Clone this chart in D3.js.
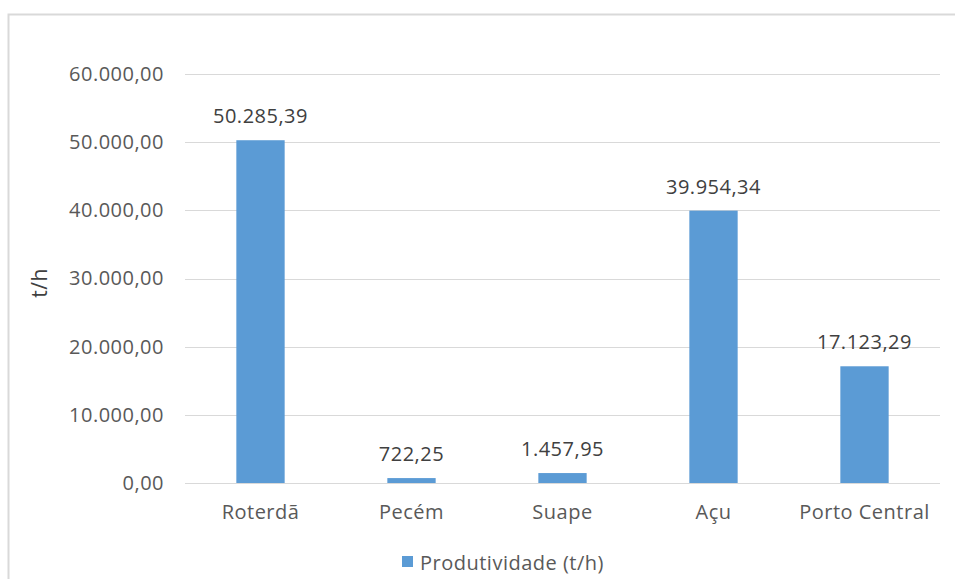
<!DOCTYPE html>
<html>
<head>
<meta charset="utf-8">
<script src="https://cdn.jsdelivr.net/npm/d3@7"></script>
<style>
  body { margin: 0; background: #fff; }
  text { font-family: "Open Sans", "Noto Sans", sans-serif; fill: #595959; letter-spacing: 0.5px; }
</style>
</head>
<body>
<div id="chart"></div>
<script>
var ports = ["Roterdã", "Pecém", "Suape", "Açu", "Porto Central"];
var produtividade = [50285.39, 722.25, 1457.95, 39954.34, 17123.29];
var yTicks = [0, 10000, 20000, 30000, 40000, 50000, 60000];
var seriesName = "Produtividade (t/h)";

function main(){
    var canvasWidth = 955;
    var canvasHeight = 579;
    var left = 185, right = 940, top = 74, bottom = 483;

    var svg = d3.select("#chart").append("svg")
        .attr("width", canvasWidth)
        .attr("height", canvasHeight);

    // chart frame (only top and left edges are in view)
    svg.append("path")
        .attr("d", "M8.5,579 V14.5 H955")
        .attr("fill", "none")
        .attr("stroke", "#d9d9d9")
        .attr("stroke-width", 2);

    var fmt = d3.formatLocale({decimal: ",", thousands: ".", grouping: [3], currency: ["", ""]}).format(",.2f");

    var xScale = d3.scaleBand().domain(ports).range([left, right]).paddingInner(0.68).paddingOuter(0.34);
    var yScale = d3.scaleLinear().domain([0, 60000]).range([bottom, top]);

    // gridlines
    svg.append("g")
        .selectAll("line")
        .data(yTicks)
        .enter().append("line")
        .attr("x1", left)
        .attr("x2", right)
        .attr("y1", function(d) { return Math.round(yScale(d)) + 0.5; })
        .attr("y2", function(d) { return Math.round(yScale(d)) + 0.5; })
        .attr("stroke", "#d9d9d9")
        .attr("stroke-width", 1);

    // y axis labels
    var yAxis = svg.append("g")
        .attr("transform", "translate(" + (left - 21) + ",0)")
        .call(d3.axisLeft(yScale).tickValues(yTicks).tickFormat(fmt).tickSize(0).tickPadding(0));
    yAxis.select(".domain").remove();
    yAxis.selectAll("text")
        .attr("font-size", "20px")
        .attr("fill", "#595959")
        .style("font-family", "\"Open Sans\", sans-serif");

    // bars
    svg.selectAll(".bar")
        .data(produtividade)
        .enter().append("rect")
        .attr("class", "bar")
        .attr("x", function(d, i) { return xScale(ports[i]); })
        .attr("y", function(d) { return yScale(d); })
        .attr("width", xScale.bandwidth())
        .attr("height", function(d) { return yScale(0) - yScale(d); })
        .attr("fill", "#5b9bd5");

    // value labels
    svg.selectAll(".val")
        .data(produtividade)
        .enter().append("text")
        .attr("class", "val")
        .attr("x", function(d, i) { return xScale(ports[i]) + xScale.bandwidth() / 2; })
        .attr("y", function(d) { return yScale(d) - 17; })
        .attr("text-anchor", "middle")
        .attr("font-size", "20px")
        .style("fill", "#404040")
        .text(function(d) { return fmt(d); });

    // x axis labels
    var xAxis = svg.append("g")
        .attr("transform", "translate(0," + bottom + ")")
        .call(d3.axisBottom(xScale).tickSize(0).tickPadding(22));
    xAxis.select(".domain").remove();
    xAxis.selectAll("text")
        .attr("font-size", "20px")
        .attr("fill", "#595959")
        .style("font-family", "\"Open Sans\", sans-serif");

    // y axis title
    svg.append("text")
        .attr("transform", "translate(47,283) rotate(-90)")
        .attr("text-anchor", "middle")
        .attr("font-size", "21px")
        .style("fill", "#404040")
        .text("t/h");

    // legend
    svg.append("rect")
        .attr("x", 402)
        .attr("y", 556)
        .attr("width", 11)
        .attr("height", 11)
        .attr("fill", "#5b9bd5");
    svg.append("text")
        .attr("x", 420)
        .attr("y", 570)
        .attr("font-size", "20px")
        .text(seriesName);
}

main();
</script>
</body>
</html>
